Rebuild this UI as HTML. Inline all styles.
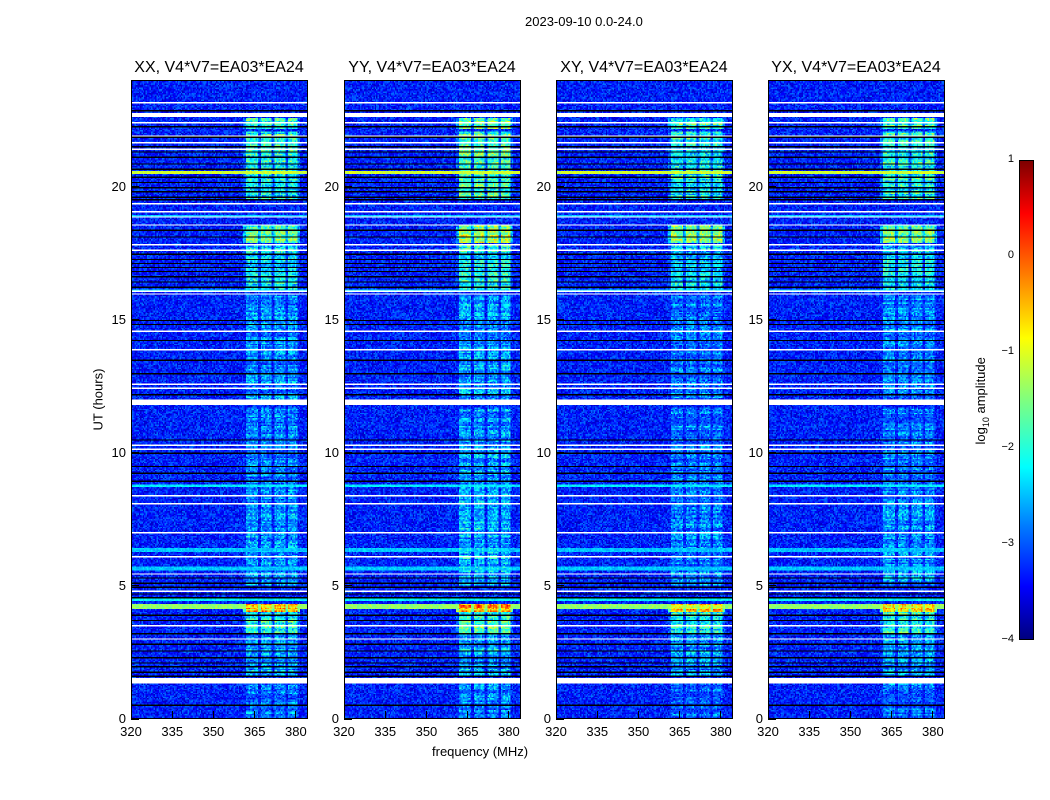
<!DOCTYPE html>
<html><head><meta charset="utf-8"><style>
body{margin:0;background:#fff;width:1050px;height:800px;position:relative;overflow:hidden;font-family:"Liberation Sans",sans-serif;color:#000}
.t{position:absolute;white-space:nowrap}
.panel{position:absolute;top:80px;width:177px;height:639px;border:1px solid #000;box-sizing:border-box}
.panel canvas{width:100%;height:100%;image-rendering:pixelated;display:block}
</style></head><body>
<div class="t" style="left:525px;top:14px;font-size:13px">2023-09-10 0.0-24.0</div>
<div class="t" style="left:48px;top:392px;font-size:13px;transform:rotate(-90deg);width:100px;text-align:center">UT (hours)</div>
<div class="t" style="left:432px;top:744px;font-size:13px">frequency (MHz)</div>
<div id="root"></div>
<div style="position:absolute;left:1019px;top:160px;width:15px;height:480px;border:1px solid #000;box-sizing:border-box;background:linear-gradient(to top,#00007f,#0000ff 11%,#007fff 24%,#00ffff 36%,#7fff7f 50%,#ffff00 63%,#ff7f00 76%,#ff0000 89%,#7f0000)"></div>
<div class="t" style="left:922px;top:392px;font-size:13px;transform:rotate(-90deg);width:120px;text-align:center">log<sub style="font-size:9px">10</sub> amplitude</div>
<script>
const hoursWhite=[23.2,22.45,21.95,21.7,21.45,19.4,19.1,18.85,18.6,17.85,17.65,16.1,16.0,14.6,13.9,12.6,12.45,10.3,10.15,8.4,8.1,6.97,6.07,5.44,4.8,3.5,3.0];
const hoursWhiteBand=[[22.6,22.78],[11.78,11.98],[1.28,1.5]];
const hoursBlack=[22.9,22.3,21.9,21.55,21.3,21.1,20.9,20.7,20.4,20.2,20.0,19.85,19.65,19.55,18.4,18.1,17.5,17.3,17.15,17.0,16.85,16.6,16.45,16.25,15.0,14.85,14.25,13.5,13.0,12.2,10.5,10.0,9.5,9.25,8.95,5.3,5.1,4.95,4.7,4.55,3.9,3.7,3.2,2.8,2.55,2.3,2.1,1.95,1.75,1.6,0.5];
const bandHours=[[20.5,20.58,-1.1],[18.85,18.95,-2.4],[16.05,16.15,-2.3],[8.7,8.82,-2.2],[6.25,6.4,-2.4],[5.55,5.68,-2.4],[4.4,4.5,-2.2],[4.1,4.28,-1.4]];
const rfiHours=[[22.2,22.6,-1.8],[19.5,22.1,-2.0],[17.9,18.6,-1.5],[16.1,17.8,-2.3],[12.0,16.0,-2.75],[8.2,11.7,-2.8],[5.0,8.2,-2.7],[4.0,4.3,-0.6],[3.2,4.0,-2.0],[1.6,3.2,-2.6],[0,1.3,-2.9]];
const rfiSub=[[362,366.5],[367.5,371.5],[372.5,376.5],[377.5,381]];
const panelNames=["XX","YY","XY","YX"];
const panelLeft=[131,344,556,768];
const panelGain=[0,0.15,-0.1,-0.05];
const xTicks=[320,335,350,365,380];
const yTicks=[0,5,10,15,20];
const cbTicks=[1,0,-1,-2,-3,-4];
const F0=320,F1=384.4,H1=24,NC=129,NR=480,W=177,PH=639;
function xPix(f){return (f-F0)/(F1-F0)*W;}
function yPix(h){return PH-(h/H1)*PH;}
function rowOf(h){return Math.floor(NR-(h/H1)*NR);}
function colFreq(c){return F0+(c+0.5)*(F1-F0)/NC;}
function hash(a,b,p){let n=(a*374761393+b*668265263+p*982451653)|0;n=(n^(n>>>13))*1274126177|0;return ((n^(n>>>16))>>>0)/4294967296;}
function jet(v){let x=(v+4)/5;x=Math.max(0,Math.min(1,x));const c=t=>Math.round(255*Math.max(0,Math.min(1,1.5-Math.abs(4*x-t))));return [c(3),c(2),c(1)];}
const root=document.getElementById('root');
panelNames.forEach((nm,p)=>{
  const L=panelLeft[p];
  const d=document.createElement('div');d.className='panel';d.style.left=L+'px';
  
  
  const cv=document.createElement('canvas');cv.width=NC;cv.height=NR;d.appendChild(cv);root.appendChild(d);
  const ctx=cv.getContext('2d');const img=ctx.createImageData(NC,NR);
  const g=panelGain[p];
  for(let r=0;r<NR;r++){
    const h=(NR-r-0.5)/NR*H1;
    let band=null;bandHours.forEach(b=>{if(h>=b[0]&&h<b[1])band=b[2];});
    let rfi=null;rfiHours.forEach(b=>{if(h>=b[0]&&h<b[1])rfi=b[2];});
    const rowMod=(hash(r,999,p)-0.5)*0.8;
    for(let c=0;c<NC;c++){
      const f=colFreq(c);
      let v=-3.25+(hash(r,c,p)-0.5)*0.9;
      const inSub=rfiSub.some(s=>f>=s[0]&&f<s[1]);
      if(f>=361&&f<382&&rfi!==null){v=Math.max(v,(inSub?rfi+g+rowMod:rfi-1.0)+(hash(c,r,p+7)-0.5)*1.1);}
      if(band!==null){let bv=band+(hash(r,c,p+3)-0.5)*0.4;v=Math.max(v,bv);}
      const [R,G,B]=jet(v);const i=(r*NC+c)*4;img.data[i]=R;img.data[i+1]=G;img.data[i+2]=B;img.data[i+3]=255;
    }
  }
  function fillRow(r0,r1,col){for(let r=Math.max(0,r0);r<Math.min(NR,r1);r++)for(let c=0;c<NC;c++){const i=(r*NC+c)*4;img.data[i]=col;img.data[i+1]=col;img.data[i+2]=col;}}
  hoursBlack.forEach(h=>{const r=rowOf(h);fillRow(r,r+1,0);});
  hoursWhite.forEach(h=>{const r=rowOf(h);fillRow(r,r+1,255);});
  hoursWhiteBand.forEach(b=>{fillRow(rowOf(b[1]),rowOf(b[0]),255);});
  ctx.putImageData(img,0,0);
  const t=document.createElement('div');t.className='t';t.textContent=nm+', V4*V7=EA03*EA24';
  
  
  t.style.cssText='left:'+(L+88)+'px;top:59px;font-size:16px;transform:translateX(-50%)';root.appendChild(t);
  xTicks.forEach(v=>{const x=L+xPix(v);
    const k=document.createElement('div');k.className='t';k.style.cssText='left:'+(x-0.5)+'px;top:711px;width:1px;height:8px;background:#000';
    
    root.appendChild(k);
    const lb=document.createElement('div');lb.className='t';lb.textContent=v;lb.style.cssText='left:'+x+'px;top:724px;font-size:13px;transform:translateX(-50%)';
    
    root.appendChild(lb);});
  yTicks.forEach(v=>{const y=80+yPix(v);
    const k=document.createElement('div');k.className='t';k.style.cssText='left:'+L+'px;top:'+(y-0.5)+'px;width:8px;height:1px;background:#000';
    
    root.appendChild(k);
    const lb=document.createElement('div');lb.className='t';lb.textContent=v;lb.style.cssText='left:'+(L-40)+'px;width:35px;text-align:right;top:'+(y-8)+'px;font-size:13px';
    
    root.appendChild(lb);});
});
cbTicks.forEach(v=>{const y=160+(1-v)/5*480;
  const lb=document.createElement('div');lb.className='t';lb.textContent=v<0?'\u2212'+(-v):v;lb.style.cssText='left:985px;width:29px;text-align:right;top:'+(y-7)+'px;font-size:11px';
  
  root.appendChild(lb);});
</script>
</body></html>
